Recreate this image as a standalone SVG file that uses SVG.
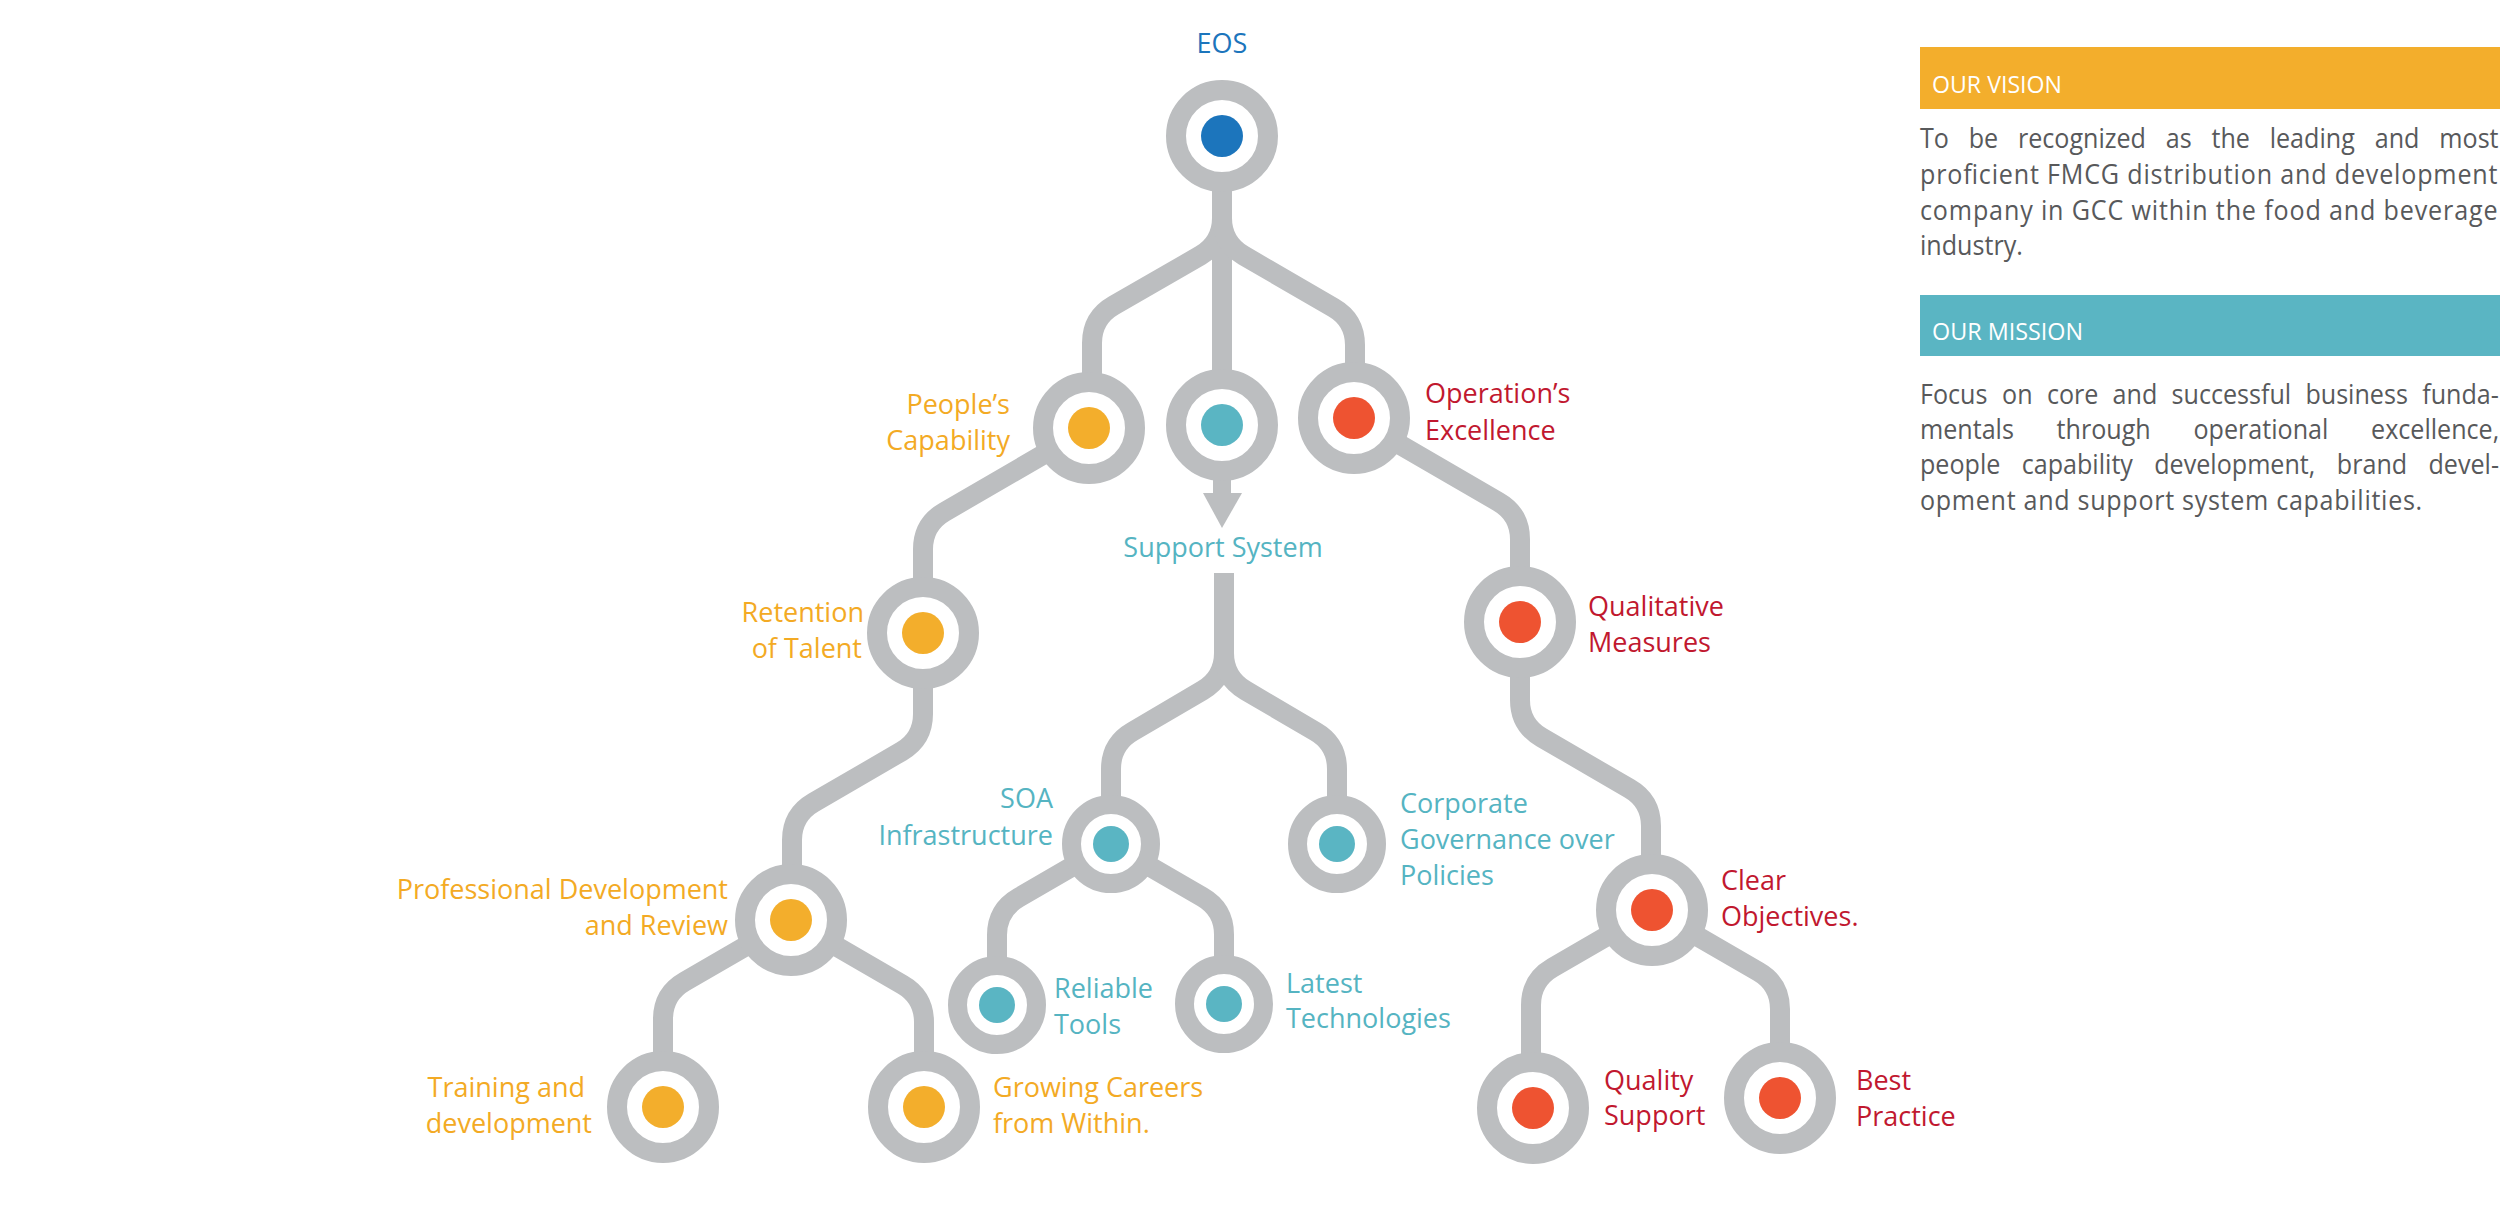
<svg xmlns="http://www.w3.org/2000/svg" width="2500" height="1217" viewBox="0 0 2500 1217">
<style>
.bg{fill:#ffffff}
.con{fill:none;stroke:#BCBEC0;stroke-width:20;stroke-linecap:butt;stroke-linejoin:round}
.ring{fill:#ffffff;stroke:#BCBEC0;stroke-width:20}
.ring-s{fill:#ffffff;stroke:#BCBEC0;stroke-width:19}
.gray{fill:#BCBEC0}
.d-blue{fill:#1C75BC}
.d-or{fill:#F3AE2C}
.d-teal{fill:#5AB5C3}
.d-red{fill:#EE5331}
text{font-family:'Open Sans','Noto Sans','Liberation Sans',sans-serif}
.lbl{font-size:27px}
.t-blue{fill:#1C75BC}
.t-or{fill:#F3AA24}
.t-teal{fill:#55B4C2}
.t-red{fill:#C1182F}
.end{text-anchor:end}
.mid{text-anchor:middle}
.body{font-size:27px;fill:#58595B}
.bar{font-size:24px;fill:#ffffff}
</style>
<rect class="bg" x="0" y="0" width="2500" height="1217"/>

<g id="connectors">
<path class="con" d="M1222,136 V218 Q1222,243 1200.4,255.5 L1113.6,305.5 Q1092,318 1092,343 V428"/>
<path class="con" d="M1222,136 V425"/>
<path class="con" d="M1222,136 V218 Q1222,243 1243.6,255.5 L1333.4,307.6 Q1355,320.1 1355,345.1 V418"/>
<path class="con" d="M1089,428 L944.6,511.8 Q923,524.3 923,549.3 V633"/>
<path class="con" d="M923,633 V714 Q923,739 901.4,751.5 L813.6,802.5 Q792,815 792,840 V920"/>
<path class="con" d="M791,920 L684.6,981.7 Q663,994.2 663,1019.2 V1107"/>
<path class="con" d="M791,920 L902.4,984.6 Q924,997.1 924,1022.1 V1107"/>
<rect class="gray" x="1213" y="470" width="18" height="24"/>
<polygon class="gray" points="1203,493 1242,493 1222,528"/>
<path class="con" d="M1224,573 V653 Q1224,678 1202.4,690.5 L1132.6,731.5 Q1111,744 1111,769 V844"/>
<path class="con" d="M1224,573 V653 Q1224,678 1245.6,690.5 L1315.4,731.5 Q1337,744 1337,769 V844"/>
<path class="con" d="M1111,844 L1018.6,897.6 Q997,910.1 997,935.1 V1005"/>
<path class="con" d="M1111,844 L1202.4,897 Q1224,909.5 1224,934.5 V1004"/>
<path class="con" d="M1354,418 L1498.4,501.8 Q1520,514.3 1520,539.3 V622"/>
<path class="con" d="M1520,622 V700 Q1520,725 1541.6,737.5 L1629.4,788.5 Q1651,801 1651,826 V910"/>
<path class="con" d="M1652,910 L1552.6,967.7 Q1531,980.2 1531,1005.2 V1108"/>
<path class="con" d="M1652,910 L1758.4,971.7 Q1780,984.2 1780,1009.2 V1098"/>
</g>

<g id="node-eos">
<circle class="ring" cx="1222" cy="136" r="46"/>
<circle class="d-blue" cx="1222" cy="136" r="21"/>
<text class="lbl t-blue mid" x="1222" y="53">EOS</text>
</g>

<g id="node-people">
<circle class="ring" cx="1089" cy="428" r="46"/>
<circle class="d-or" cx="1089" cy="428" r="21"/>
<text class="lbl t-or end"><tspan x="1010" y="414">People’s</tspan><tspan x="1010" y="450">Capability</tspan></text>
</g>

<g id="node-support">
<circle class="ring" cx="1222" cy="425" r="46"/>
<circle class="d-teal" cx="1222" cy="425" r="21"/>
<text class="lbl t-teal mid" x="1223" y="557">Support System</text>
</g>

<g id="node-operation">
<circle class="ring" cx="1354" cy="418" r="46"/>
<circle class="d-red" cx="1354" cy="418" r="21"/>
<text class="lbl t-red"><tspan x="1425" y="403">Operation’s</tspan><tspan x="1425" y="440">Excellence</tspan></text>
</g>

<g id="node-retention">
<circle class="ring" cx="923" cy="633" r="46"/>
<circle class="d-or" cx="923" cy="633" r="21"/>
<text class="lbl t-or end"><tspan x="864" y="622">Retention</tspan><tspan x="862" y="658">of Talent</tspan></text>
</g>

<g id="node-qualitative">
<circle class="ring" cx="1520" cy="622" r="46"/>
<circle class="d-red" cx="1520" cy="622" r="21"/>
<text class="lbl t-red"><tspan x="1588" y="616">Qualitative</tspan><tspan x="1588" y="652">Measures</tspan></text>
</g>

<g id="node-soa">
<circle class="ring-s" cx="1111" cy="844" r="39.5"/>
<circle class="d-teal" cx="1111" cy="844" r="18"/>
<text class="lbl t-teal end"><tspan x="1053" y="808">SOA</tspan><tspan x="1053" y="845">Infrastructure</tspan></text>
</g>

<g id="node-corporate">
<circle class="ring-s" cx="1337" cy="844" r="39.5"/>
<circle class="d-teal" cx="1337" cy="844" r="18"/>
<text class="lbl t-teal"><tspan x="1400" y="813">Corporate</tspan><tspan x="1400" y="849">Governance over</tspan><tspan x="1400" y="885">Policies</tspan></text>
</g>

<g id="node-profdev">
<circle class="ring" cx="791" cy="920" r="46"/>
<circle class="d-or" cx="791" cy="920" r="21"/>
<text class="lbl t-or end"><tspan x="728" y="899">Professional Development</tspan><tspan x="728" y="935">and Review</tspan></text>
</g>

<g id="node-clear">
<circle class="ring" cx="1652" cy="910" r="46"/>
<circle class="d-red" cx="1652" cy="910" r="21"/>
<text class="lbl t-red"><tspan x="1721" y="890">Clear</tspan><tspan x="1721" y="926">Objectives.</tspan></text>
</g>

<g id="node-reliable">
<circle class="ring-s" cx="997" cy="1005" r="39.5"/>
<circle class="d-teal" cx="997" cy="1005" r="18"/>
<text class="lbl t-teal"><tspan x="1054" y="998">Reliable</tspan><tspan x="1054" y="1034">Tools</tspan></text>
</g>

<g id="node-latest">
<circle class="ring-s" cx="1224" cy="1004" r="39.5"/>
<circle class="d-teal" cx="1224" cy="1004" r="18"/>
<text class="lbl t-teal"><tspan x="1286" y="993">Latest</tspan><tspan x="1286" y="1028">Technologies</tspan></text>
</g>

<g id="node-training">
<circle class="ring" cx="663" cy="1107" r="46"/>
<circle class="d-or" cx="663" cy="1107" r="21"/>
<text class="lbl t-or end"><tspan x="585" y="1097">Training and</tspan><tspan x="592" y="1133">development</tspan></text>
</g>

<g id="node-growing">
<circle class="ring" cx="924" cy="1107" r="46"/>
<circle class="d-or" cx="924" cy="1107" r="21"/>
<text class="lbl t-or"><tspan x="993" y="1097">Growing Careers</tspan><tspan x="993" y="1133">from Within.</tspan></text>
</g>

<g id="node-quality">
<circle class="ring" cx="1533" cy="1108" r="46"/>
<circle class="d-red" cx="1533" cy="1108" r="21"/>
<text class="lbl t-red"><tspan x="1604" y="1090">Quality</tspan><tspan x="1604" y="1125">Support</tspan></text>
</g>

<g id="node-best">
<circle class="ring" cx="1780" cy="1098" r="46"/>
<circle class="d-red" cx="1780" cy="1098" r="21"/>
<text class="lbl t-red"><tspan x="1856" y="1090">Best</tspan><tspan x="1856" y="1126">Practice</tspan></text>
</g>

<g id="vision">
<rect x="1920" y="47" width="580" height="62" fill="#F3AE2C"/>
<text class="bar" x="1932" y="93" textLength="130" lengthAdjust="spacingAndGlyphs">OUR VISION</text>
<g transform="matrix(0.93 0 0 1 134.4 0)">
<text class="body" y="148"><tspan x="1920">To</tspan><tspan x="1972.3">be</tspan><tspan x="2025.3">recognized</tspan><tspan x="2184.2">as</tspan><tspan x="2233.4">the</tspan><tspan x="2296">leading</tspan><tspan x="2409">and</tspan><tspan x="2478.4">most</tspan></text>
<text class="body" x="1920" y="184" textLength="621" lengthAdjust="spacing">proficient FMCG distribution and development</text>
<text class="body" x="1920" y="220" textLength="621" lengthAdjust="spacing">company in GCC within the food and beverage</text>
<text class="body" x="1920" y="255">industry.</text>
</g>
</g>

<g id="mission">
<rect x="1920" y="295" width="580" height="61" fill="#5AB5C3"/>
<text class="bar" x="1932" y="340" textLength="151" lengthAdjust="spacingAndGlyphs">OUR MISSION</text>
<g transform="matrix(0.93 0 0 1 134.4 0)">
<text class="body" y="404"><tspan x="1920">Focus</tspan><tspan x="2008.3">on</tspan><tspan x="2056.5">core</tspan><tspan x="2127.1">and</tspan><tspan x="2190.5">successful</tspan><tspan x="2334.4">business</tspan><tspan x="2460">funda-</tspan></text>
<text class="body" y="439"><tspan x="1920">mentals</tspan><tspan x="2066.9">through</tspan><tspan x="2214.1">operational</tspan><tspan x="2405">excellence,</tspan></text>
<text class="body" y="474"><tspan x="1920">people</tspan><tspan x="2029.4">capability</tspan><tspan x="2171.9">development,</tspan><tspan x="2368.2">brand</tspan><tspan x="2466.8">devel-</tspan></text>
<text class="body" x="1920" y="510" textLength="540" lengthAdjust="spacing">opment and support system capabilities.</text>
</g>
</g>
</svg>
